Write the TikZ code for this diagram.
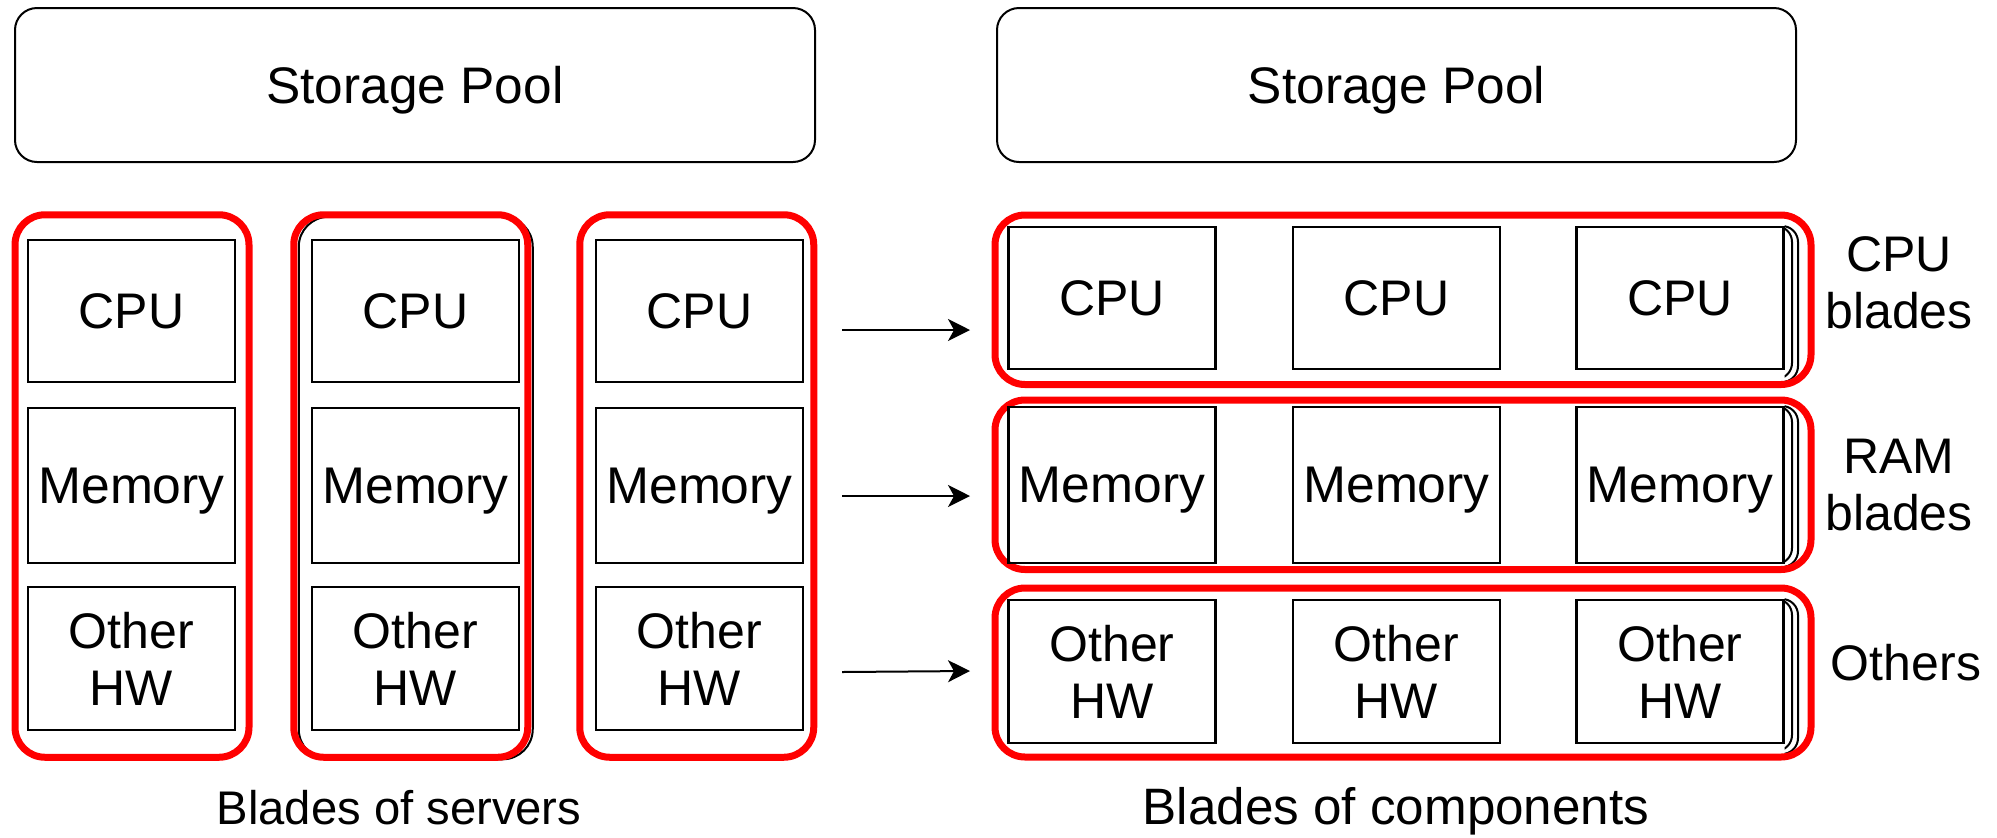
\documentclass[tikz,border=0pt]{standalone}
\usepackage{fontspec}
\setmainfont{Liberation Sans}
\usetikzlibrary{arrows.meta}
\begin{document}
\begin{tikzpicture}[x=0.5pt,y=-0.5pt,
  every node/.style={inner sep=0pt, outer sep=0pt, align=center,
    font=\fontsize{25pt}{28.5pt}\selectfont},
  pool/.style={draw, line width=1pt, rounded corners=11pt,
    minimum width=400pt, minimum height=77pt, text depth=0pt,
    font=\fontsize{25.7pt}{28.5pt}\selectfont},
  part/.style={draw, line width=1.2pt, minimum width=103.5pt},
  cpubox/.style={part, minimum height=71pt},
  membox/.style={part, minimum height=77.5pt, text depth=0pt,
    font=\fontsize{25.8pt}{28.5pt}\selectfont},
  othbox/.style={part, minimum height=71.5pt},
  redbox/.style={draw=red, line width=3.5pt, rounded corners=15pt},
  server/.style={redbox, minimum width=117pt, minimum height=271.25pt},
  rowbox/.style={redbox, minimum width=408pt, minimum height=84.75pt},
  backbox/.style={draw, line width=1pt, rounded corners=15pt,
    minimum width=117pt, minimum height=271.25pt},
  stackline/.style={draw, line width=1pt, rounded corners=8pt},
  link/.style={line width=1pt, -{Stealth[length=11pt,width=11pt,inset=3pt]}},
  caption/.style={anchor=base},
  sidelabel/.style={anchor=north}
]
\useasboundingbox (0,0) rectangle (1997,837);

% storage pools
\node[pool] (poolL) at (415,85) {Storage Pool};
\node[pool, minimum width=399.5pt] (poolR) at (1396.5,85) {Storage Pool};

% server blades (left)
\node[backbox] (s2back) at (415.75,488) {};
\node[server] (s1) at (132,486) {};
\node[server] (s2) at (410.75,486) {};
\node[server] (s3) at (696.75,486) {};

\foreach \n/\x in {1/131.5, 2/415.5, 3/699.5} {
  \node[cpubox] (cpu\n) at (\x,311) {CPU};
  \node[membox] (mem\n) at (\x,485.5) {Memory};
  \node[othbox] (oth\n) at (\x,658.5) {Other\\HW};
}

% component blades (right): stacked outlines behind each row
\begin{scope}
  \clip (1784.5,200) rectangle (1830,780);
  \draw[stackline] (1500,226) rectangle (1792,379);
  \draw[stackline] (1500,226) rectangle (1798,382);
  \draw[stackline] (1500,406) rectangle (1792,564);
  \draw[stackline] (1500,406) rectangle (1798,567);
  \draw[stackline] (1500,599) rectangle (1792,751);
  \draw[stackline] (1500,599) rectangle (1798,754);
\end{scope}

\node[rowbox] (rowcpu) at (1403,299.75) {};
\node[rowbox] (rowmem) at (1403,484.75) {};
\node[rowbox, minimum height=84.5pt] (rowoth) at (1403,672.5) {};

\foreach \n/\x in {1/1112, 2/1396.5, 3/1680} {
  \node[cpubox] (rcpu\n) at (\x,298) {CPU};
  \node[membox, minimum height=78pt] (rmem\n) at (\x,485) {Memory};
  \node[othbox] (roth\n) at (\x,671.5) {Other\\HW};
}

% row labels
\node[sidelabel] (lblcpu) at (1899,237) {CPU\\blades};
\node[sidelabel] (lblram) at (1899,439) {RAM\\blades};
\node[sidelabel] (lbloth) at (1906,644) {Others};

% arrows from servers to component rows
\coordinate (a1) at (842,330);  \coordinate (b1) at (970,330);
\coordinate (a2) at (842,496);  \coordinate (b2) at (970,496);
\coordinate (a3) at (842,672);  \coordinate (b3) at (970,671);
\draw[link] (a1) -- (b1);
\draw[link] (a2) -- (b2);
\draw[link] (a3) -- (b3);

% captions
\node[caption, font=\fontsize{23.6pt}{28.5pt}\selectfont] (capL) at (399,824) {Blades of servers};
\node[caption, font=\fontsize{25.6pt}{28.5pt}\selectfont] (capR) at (1396,824) {Blades of components};
\end{tikzpicture}
\end{document}
